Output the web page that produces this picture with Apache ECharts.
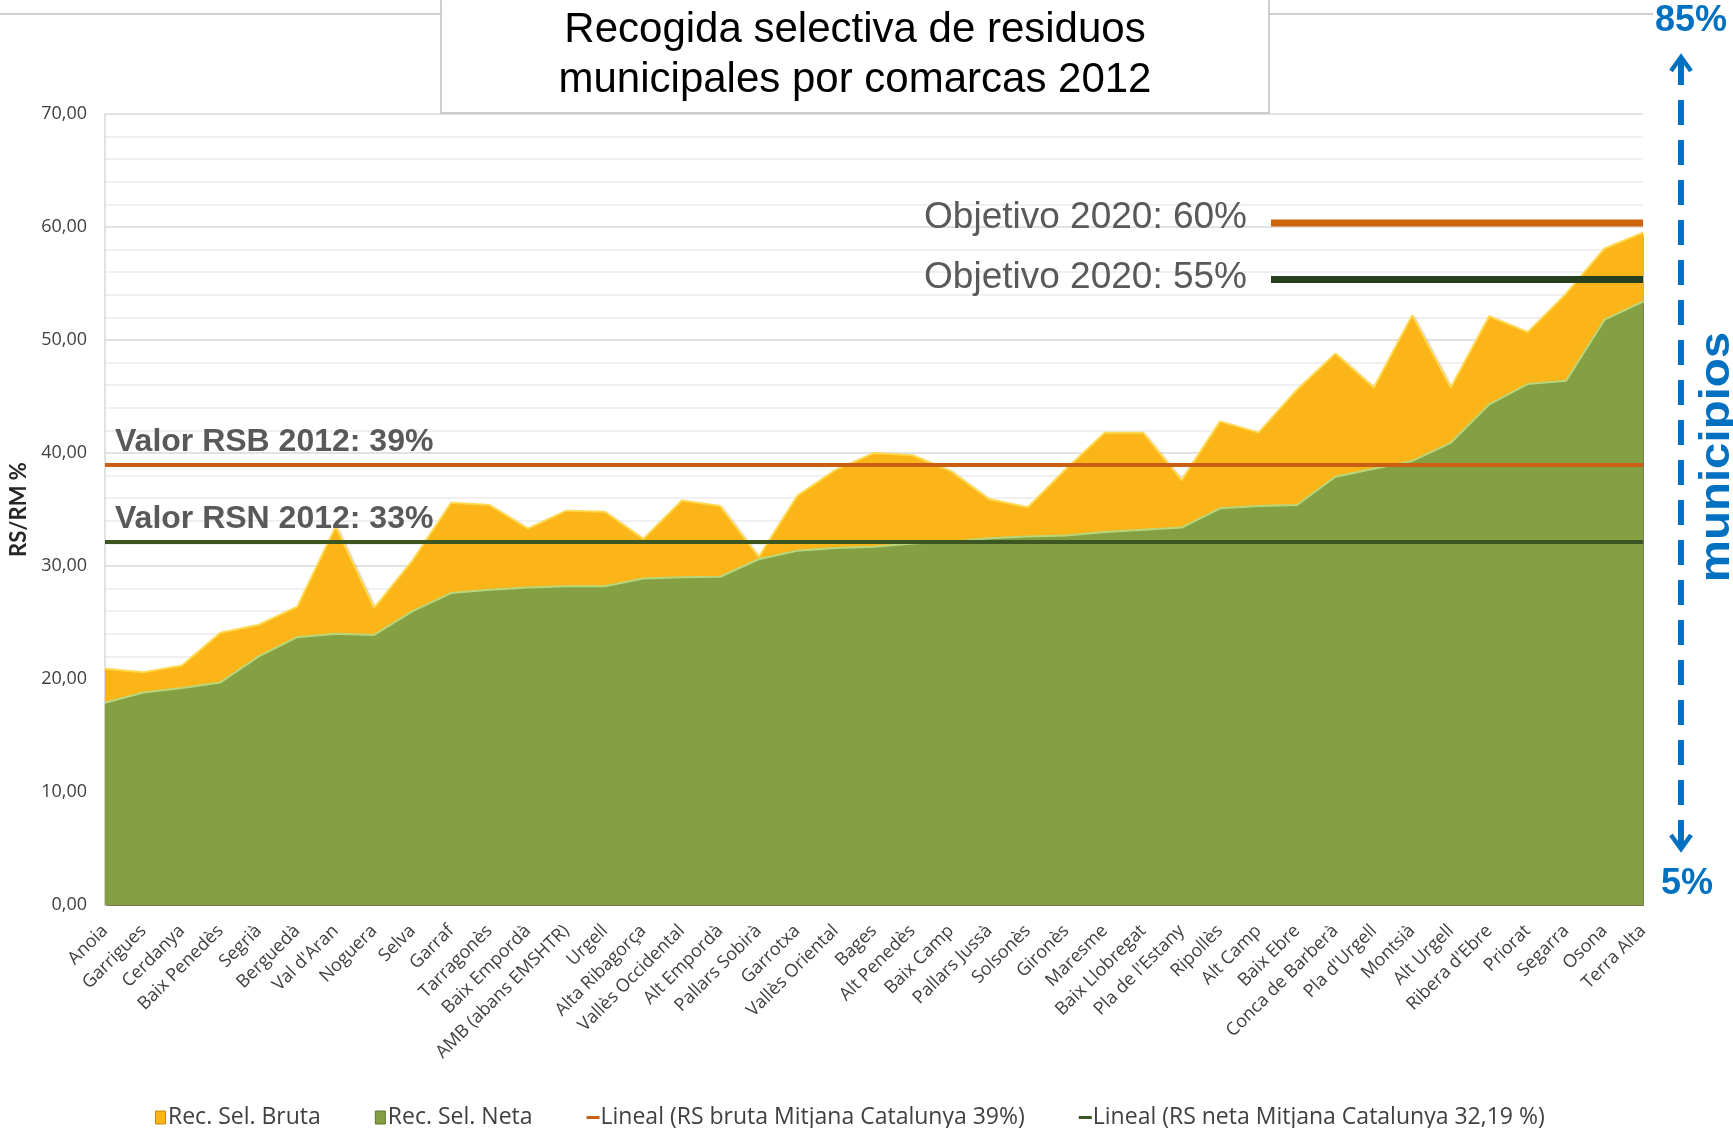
<!DOCTYPE html>
<html>
<head>
<meta charset="utf-8">
<script src="https://cdn.jsdelivr.net/npm/echarts@6/dist/echarts.min.js"></script>
<style>
html, body { margin: 0; padding: 0; background: #fff; }
#main { width: 1733px; height: 1128px; }
</style>
</head>
<body>
<div id="main"></div>
<script>
// dades
var comarques = ['Anoia', 'Garrigues', 'Cerdanya', 'Baix Penedès', 'Segrià', 'Berguedà', "Val d'Aran", 'Noguera',
    'Selva', 'Garraf', 'Tarragonès', 'Baix Empordà', 'AMB (abans EMSHTR)', 'Urgell', 'Alta Ribagorça',
    'Vallès Occidental', 'Alt Empordà', 'Pallars Sobirà', 'Garrotxa', 'Vallès Oriental', 'Bages', 'Alt Penedès',
    'Baix Camp', 'Pallars Jussà', 'Solsonès', 'Gironès', 'Maresme', 'Baix Llobregat', "Pla de l'Estany",
    'Ripollès', 'Alt Camp', 'Baix Ebre', 'Conca de Barberà', "Pla d'Urgell", 'Montsià', 'Alt Urgell',
    "Ribera d'Ebre", 'Priorat', 'Segarra', 'Osona', 'Terra Alta'];

var recBruta = [20.9, 20.6, 21.2, 24.1, 24.8, 26.4, 33.5, 26.3, 30.5, 35.6, 35.4, 33.3, 34.9, 34.8, 32.4,
    35.8, 35.3, 30.8, 36.2, 38.5, 40.0, 39.8, 38.4, 35.9, 35.2, 38.6, 41.8, 41.8, 37.6,
    42.8, 41.8, 45.6, 48.8, 45.8, 52.2, 45.8, 52.1, 50.7, 54.1, 58.1, 59.5];

var recNeta = [17.9, 18.8, 19.2, 19.7, 22.0, 23.7, 24.0, 23.9, 26.0, 27.6, 27.9, 28.1, 28.2, 28.2, 28.9,
    29.0, 29.05, 30.6, 31.35, 31.6, 31.7, 32.0, 32.15, 32.45, 32.6, 32.7, 33.0, 33.2, 33.4,
    35.1, 35.3, 35.4, 37.9, 38.6, 39.3, 40.9, 44.3, 46.1, 46.4, 51.8, 53.4];

var mitjanaBruta = 39;
var mitjanaNeta = 32.19;
var objectius = [60, 55];
var objectiuLabels = ['Objetivo 2020: 60%', 'Objetivo 2020: 55%'];
var objectiuColors = ['#CC650B', '#24401F'];

var rectIcon = 'path://M0,0 H10 V13 H0 Z';
var lineIcon = 'path://M0,0 H13 V3 H0 Z';

var myChart = echarts.init(document.getElementById('main'));
var option = {
    backgroundColor: '#fff',
    animation: false,
    grid: { left: 105, right: 90, top: 114, bottom: 223 },
    legend: {
        left: 150,
        top: 1101,
        itemGap: 54,
        itemWidth: 13,
        itemHeight: 13,
        textStyle: { fontFamily: 'Open Sans', fontSize: 23, color: '#404040', padding: [0, 0, 0, -4] },
        data: [
            { name: 'Rec. Sel. Bruta', icon: rectIcon, itemStyle: { borderColor: '#C58C0C', borderWidth: 1 } },
            { name: 'Rec. Sel. Neta', icon: rectIcon, itemStyle: { borderColor: '#5A7530', borderWidth: 1 } },
            { name: 'Lineal (RS bruta Mitjana Catalunya 39%)', icon: lineIcon },
            { name: 'Lineal (RS neta Mitjana Catalunya 32,19 %)', icon: lineIcon }
        ]
    },
    xAxis: {
        type: 'category',
        data: comarques,
        boundaryGap: false,
        axisLine: { show: false },
        axisTick: { show: false },
        splitLine: { show: false },
        axisLabel: {
            interval: 0,
            rotate: 45,
            margin: 23,
            fontFamily: 'Open Sans',
            fontSize: 18,
            color: '#404040'
        }
    },
    yAxis: {
        type: 'value',
        min: 0,
        max: 70,
        interval: 10,
        name: 'RS/RM %',
        nameLocation: 'middle',
        nameGap: 68,
        nameTextStyle: { fontFamily: 'Lato', fontWeight: 'bold', fontSize: 22, color: '#262626' },
        axisLine: { show: true, lineStyle: { color: '#d9d9d9', width: 1.5 } },
        axisTick: { show: false },
        minorTick: { show: false, splitNumber: 5 },
        axisLabel: {
            margin: 18,
            fontFamily: 'Open Sans',
            fontSize: 18,
            color: '#404040',
            formatter: function (v) { return v.toFixed(2).replace('.', ','); }
        },
        splitLine: { lineStyle: { color: '#d9d9d9', width: 1.5 } },
        minorSplitLine: { show: true, lineStyle: { color: '#ececec', width: 1.5 } }
    },
    series: [
        {
            name: 'Rec. Sel. Bruta',
            type: 'line',
            data: recBruta,
            symbol: 'none',
            silent: true,
            itemStyle: { color: '#FCB519' },
            lineStyle: { color: '#FFD94E', width: 2 },
            areaStyle: {
                color: '#FCB519', opacity: 1,
                shadowColor: 'rgba(70,50,0,0.5)', shadowBlur: 3, shadowOffsetX: 1.5, shadowOffsetY: 1.5
            },
            z: 2
        },
        {
            name: 'Rec. Sel. Neta',
            type: 'line',
            data: recNeta,
            symbol: 'none',
            silent: true,
            itemStyle: { color: '#84A043' },
            lineStyle: { color: '#B8D77C', width: 2 },
            areaStyle: {
                color: '#84A043', opacity: 1,
                shadowColor: 'rgba(40,55,10,0.6)', shadowBlur: 3, shadowOffsetX: 1.5, shadowOffsetY: 1.5
            },
            z: 3
        },
        {
            name: 'Lineal (RS bruta Mitjana Catalunya 39%)',
            type: 'line',
            data: [],
            itemStyle: { color: '#C85F12' },
            lineStyle: { color: '#C85F12' },
            z: 5,
            markLine: {
                silent: true,
                symbol: 'none',
                lineStyle: { color: '#C85F12', width: 4, type: 'solid' },
                label: {
                    position: 'insideStartTop',
                    distance: [10, 6],
                    formatter: 'Valor RSB 2012: 39%',
                    fontFamily: 'Liberation Sans',
                    fontWeight: 'bold',
                    fontSize: 32,
                    color: '#595959'
                },
                data: [{ yAxis: mitjanaBruta }]
            }
        },
        {
            name: 'Lineal (RS neta Mitjana Catalunya 32,19 %)',
            type: 'line',
            data: [],
            itemStyle: { color: '#3B5623' },
            lineStyle: { color: '#3B5623' },
            z: 5,
            markLine: {
                silent: true,
                symbol: 'none',
                lineStyle: { color: '#3B5623', width: 4, type: 'solid' },
                label: {
                    position: 'insideStartTop',
                    distance: [10, 6],
                    formatter: 'Valor RSN 2012: 33%',
                    fontFamily: 'Liberation Sans',
                    fontWeight: 'bold',
                    fontSize: 32,
                    color: '#595959'
                },
                data: [{ yAxis: mitjanaNeta }]
            }
        }
    ]
};
myChart.setOption(option);

// anotacions fora de l'eix
var xRight = myChart.convertToPixel({ xAxisIndex: 0 }, comarques[comarques.length - 1]);
var blau = '#0070C0';
var graphics = [
    { type: 'line', z: 10, shape: { x1: 0, y1: 14, x2: 1653, y2: 14 }, style: { stroke: '#c0c0c0', lineWidth: 1.5 } },
    { type: 'rect', z: 11, shape: { x: 441, y: -2, width: 828, height: 115 }, style: { fill: '#fff', stroke: '#c0c0c0', lineWidth: 1.5 } },
    {
        type: 'text', z: 12, x: 855, y: 55,
        style: {
            text: 'Recogida selectiva de residuos\nmunicipales por comarcas 2012',
            font: '42px "Liberation Sans"', fill: '#000', align: 'center', verticalAlign: 'middle', lineHeight: 50
        }
    },
    // fletxa blava
    { type: 'line', z: 10, shape: { x1: 1681, y1: 60, x2: 1681, y2: 846 }, style: { stroke: blau, lineWidth: 6, lineDash: [25, 15] } },
    { type: 'polyline', z: 10, shape: { points: [[1671, 71], [1681, 57], [1691, 71]] }, style: { stroke: blau, lineWidth: 4.5, fill: null } },
    { type: 'polyline', z: 10, shape: { points: [[1671, 835], [1681, 849], [1691, 835]] }, style: { stroke: blau, lineWidth: 4.5, fill: null } },
    { type: 'text', z: 12, x: 1691, y: 21, style: { text: '85%', font: 'bold 36px "Liberation Sans"', fill: blau, align: 'center', verticalAlign: 'middle' } },
    { type: 'text', z: 12, x: 1687, y: 884, style: { text: '5%', font: 'bold 36px "Liberation Sans"', fill: blau, align: 'center', verticalAlign: 'middle' } },
    {
        type: 'text', z: 12, x: 1717, y: 457, rotation: Math.PI / 2, scaleX: 1.13,
        style: { text: 'municipios', font: 'bold 42px "Liberation Sans"', fill: blau, align: 'center', verticalAlign: 'middle' }
    }
];
var textShift = [5, 2];
objectius.forEach(function (v, i) {
    var y = myChart.convertToPixel({ yAxisIndex: 0 }, v) - 4;
    graphics.push({ type: 'line', z: 10, shape: { x1: 1271, y1: y, x2: xRight, y2: y }, style: { stroke: objectiuColors[i], lineWidth: 7 } });
    graphics.push({
        type: 'text', z: 12, x: 1247, y: y - textShift[i],
        style: { text: objectiuLabels[i], font: '37px "Liberation Sans"', fill: '#595959', align: 'right', verticalAlign: 'middle' }
    });
});
myChart.setOption({ graphic: graphics });
</script>
</body>
</html>
